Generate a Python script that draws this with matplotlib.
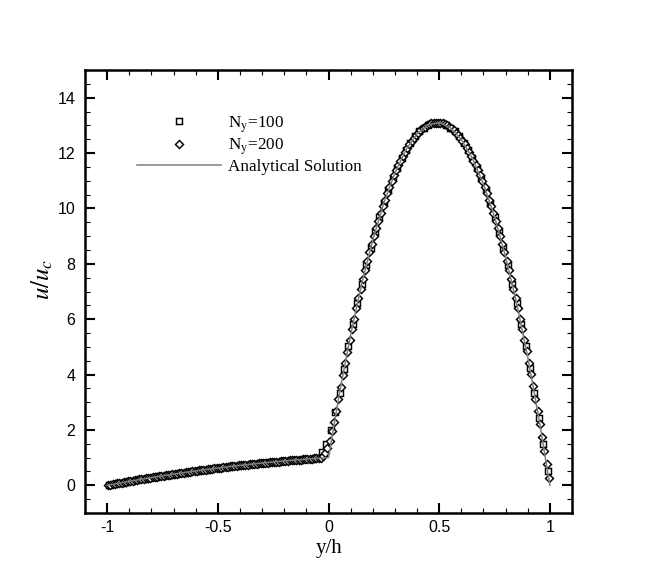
import numpy as np
import matplotlib
matplotlib.use("Agg")
import matplotlib.pyplot as plt
from matplotlib.ticker import MultipleLocator

plt.rcParams['mathtext.fontset'] = 'stix'

# ---- data ----
u100_left = [0.01, 0.04, 0.07, 0.10, 0.13, 0.16, 0.19, 0.21, 0.24, 0.27,
             0.29, 0.32, 0.34, 0.37, 0.39, 0.42, 0.44, 0.46, 0.49, 0.51,
             0.53, 0.55, 0.57, 0.59, 0.61, 0.63, 0.65, 0.67, 0.69, 0.71,
             0.73, 0.75, 0.76, 0.78, 0.80, 0.81, 0.83, 0.84, 0.86, 0.87,
             0.89, 0.90, 0.91, 0.93, 0.94, 0.95, 0.96, 0.97, 1.20, 1.50]
u100_right = [2.00, 2.65, 3.34, 4.21, 5.04, 5.82, 6.57, 7.28, 7.94, 8.57,
              9.15, 9.70, 10.20, 10.66, 11.09, 11.47, 11.81, 12.12, 12.38, 12.60,
              12.78, 12.92, 13.02, 13.08, 13.10, 13.08, 13.02, 12.92, 12.78, 12.60,
              12.38, 12.12, 11.81, 11.47, 11.09, 10.66, 10.20, 9.70, 9.15, 8.57,
              7.94, 7.28, 6.57, 5.82, 5.04, 4.22, 3.35, 2.44, 1.49, 0.51]

u200_left = [0.01, 0.02, 0.04, 0.05, 0.07, 0.08, 0.10, 0.11, 0.12, 0.14,
             0.15, 0.17, 0.18, 0.19, 0.21, 0.22, 0.23, 0.25, 0.26, 0.27,
             0.29, 0.30, 0.31, 0.32, 0.34, 0.35, 0.36, 0.37, 0.39, 0.40,
             0.41, 0.42, 0.43, 0.45, 0.46, 0.47, 0.48, 0.49, 0.50, 0.51,
             0.53, 0.54, 0.55, 0.56, 0.57, 0.58, 0.59, 0.60, 0.61, 0.62,
             0.63, 0.64, 0.65, 0.66, 0.67, 0.68, 0.69, 0.70, 0.71, 0.72,
             0.72, 0.73, 0.74, 0.75, 0.76, 0.77, 0.78, 0.78, 0.79, 0.80,
             0.81, 0.82, 0.82, 0.83, 0.84, 0.85, 0.85, 0.86, 0.87, 0.88,
             0.88, 0.89, 0.90, 0.90, 0.91, 0.92, 0.92, 0.93, 0.94, 0.94,
             0.95, 0.95, 0.96, 0.97, 0.97, 0.98, 0.98, 1.05, 1.15, 1.35]
u200_right = [1.60, 1.95, 2.30, 2.67, 3.12, 3.56, 4.00, 4.42, 4.83, 5.24,
              5.63, 6.01, 6.39, 6.75, 7.10, 7.45, 7.78, 8.10, 8.41, 8.72,
              9.01, 9.29, 9.56, 9.83, 10.08, 10.32, 10.55, 10.77, 10.99, 11.19,
              11.38, 11.56, 11.73, 11.89, 12.04, 12.19, 12.32, 12.44, 12.55, 12.65,
              12.74, 12.82, 12.89, 12.95, 13.00, 13.04, 13.07, 13.09, 13.10, 13.10,
              13.09, 13.07, 13.04, 13.00, 12.95, 12.89, 12.82, 12.74, 12.65, 12.55,
              12.44, 12.32, 12.19, 12.04, 11.89, 11.73, 11.56, 11.38, 11.19, 10.99,
              10.77, 10.55, 10.32, 10.08, 9.83, 9.56, 9.29, 9.01, 8.72, 8.41,
              8.10, 7.78, 7.45, 7.10, 6.75, 6.39, 6.01, 5.63, 5.24, 4.84,
              4.43, 4.01, 3.57, 3.13, 2.67, 2.21, 1.73, 1.25, 0.76, 0.26]

u_exact = [0.00, 0.074, 0.145, 0.214, 0.28, 0.344, 0.405, 0.464, 0.52, 0.574,
           0.625, 0.674, 0.72, 0.764, 0.805, 0.844, 0.88, 0.914, 0.945, 0.974,
           1.00,
           3.34, 5.44, 7.28, 8.86, 10.20, 11.28, 12.12, 12.70, 13.02, 13.10,
           12.92, 12.49, 11.81, 10.88, 9.70, 8.26, 6.57, 4.63, 2.44, 0.00]

y100 = np.linspace(-0.99, 0.99, 100)
y200 = np.linspace(-0.995, 0.995, 200)
y_exact = np.linspace(-1.0, 1.0, 41)

u100 = u100_left + u100_right
u200 = u200_left + u200_right

xticks = [-1, -0.5, 0, 0.5, 1]
xticklabels = ['-1', '-0.5', '0', '0.5', '1']
yticks = [0, 2, 4, 6, 8, 10, 12, 14]

labels = [r'N$_\mathrm{y}$=100', r'N$_\mathrm{y}$=200', 'Analytical Solution']

# ---- figure ----
fig = plt.figure(figsize=(6.5, 5.78), dpi=100)
ax = fig.add_axes([85/650, 1-513/578, (572-85)/650, (513-70)/578])

ax.plot(y100, u100, linestyle='none', marker='s', markersize=4.6,
        markerfacecolor='white', markeredgecolor='black', markeredgewidth=1.05,
        label=labels[0], zorder=2)
ax.plot(y200, u200, linestyle='none', marker='D', markersize=4.3,
        markerfacecolor='white', markeredgecolor='black', markeredgewidth=1.05,
        label=labels[1], zorder=3)
ax.plot(y_exact, u_exact, color='#7f7f7f', linewidth=1.1,
        label=labels[2], zorder=4)

ax.set_xlim(-1.1, 1.1)
ax.set_ylim(-1, 15)
ax.set_xticks(xticks)
ax.set_xticklabels(xticklabels)
ax.set_yticks(yticks)
ax.xaxis.set_minor_locator(MultipleLocator(0.1))
ax.yaxis.set_minor_locator(MultipleLocator(0.5))

for s in ax.spines.values():
    s.set_linewidth(1.8)
ax.tick_params(which='both', direction='in', top=True, right=True)
ax.tick_params(which='major', length=7.5, width=1.5, labelsize=11.5)
ax.tick_params(axis='x', which='major', pad=5)
ax.tick_params(axis='y', which='major', pad=7)
ax.tick_params(which='minor', length=3.8, width=0.8)
for lab in ax.get_xticklabels() + ax.get_yticklabels():
    lab.set_family('Liberation Sans')

fig.text(329/650, 1-549/578, 'y/h', family='Liberation Serif', fontsize=15,
         ha='center', va='center')
fig.text(42/650, 1-279/578, r'$u/u_c$', fontsize=18, rotation=90,
         ha='center', va='center')

leg = ax.legend(loc='upper left', bbox_to_anchor=(137/650, 1-114/578),
                bbox_transform=fig.transFigure, frameon=False,
                prop={'family': 'Liberation Serif', 'size': 12.3},
                handlelength=4.9, handletextpad=0.4, labelspacing=0.12,
                borderpad=0, borderaxespad=0, numpoints=1)
for h in leg.legend_handles[:2]:
    h.set_markersize(4.5)

fig.savefig('out.png', dpi=100)
